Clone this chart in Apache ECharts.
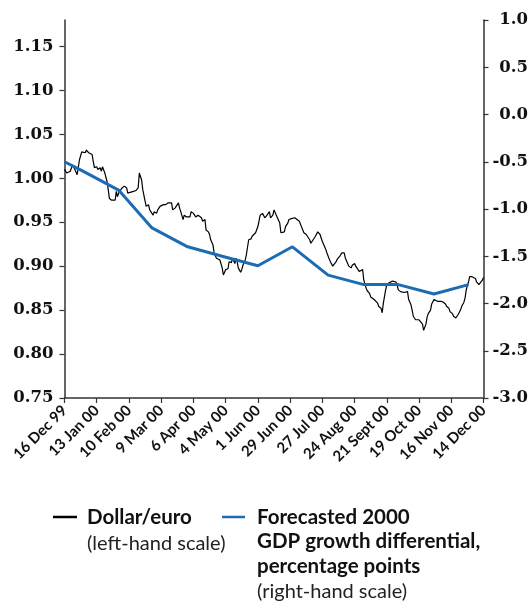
<!DOCTYPE html>
<html>
<head>
<meta charset="utf-8">
<script src="https://cdn.jsdelivr.net/npm/echarts@6/dist/echarts.min.js"></script>
<style>
  html, body { margin: 0; padding: 0; background: #fff; }
  #chart { width: 531px; height: 602px; }
</style>
</head>
<body>
<div id="chart"></div>
<script>
// x axis: days counted from 16 Dec 99, tick every 4 weeks
var xTickLabels = ['16 Dec 99', '13 Jan 00', '10 Feb 00', '9 Mar 00', '6 Apr 00', '4 May 00', '1 Jun 00',
  '29 Jun 00', '27 Jul 00', '24 Aug 00', '21 Sept 00', '19 Oct 00', '16 Nov 00', '14 Dec 00'];
var leftTicks = [0.75, 0.80, 0.85, 0.90, 0.95, 1.00, 1.05, 1.10, 1.15];

// dollar/euro, daily (day offset, rate)
var fxDay = [0, 2, 5, 7, 9, 11, 12, 13, 15, 16, 18, 19, 21, 22, 24, 25, 26, 28, 29, 31, 32, 33, 35, 37, 38, 39,
  41, 42, 44, 45, 46, 47, 50, 51, 52, 54, 55, 57, 60, 62, 64, 65, 67, 68, 70, 71, 73, 74, 75, 77, 78, 80, 81,
  83, 84, 86, 87, 88, 90, 91, 93, 94, 96, 97, 99, 100, 101, 103, 104, 106, 107, 109, 110, 112, 113, 114, 116,
  117, 119, 120, 122, 123, 125, 126, 127, 129, 130, 132, 133, 135, 136, 137, 138, 140, 142, 143, 144, 145, 146,
  148, 149, 150, 151, 153, 154, 155, 157, 158, 160, 162, 163, 166, 168, 169, 170, 172, 174, 175, 176, 178, 179,
  181, 182, 184, 185, 187, 188, 189, 191, 192, 194, 195, 197, 198, 200, 201, 202, 204, 205, 207, 208, 210, 211,
  213, 214, 215, 216, 218, 220, 221, 222, 223, 224, 226, 227, 228, 230, 231, 233, 234, 236, 237, 239, 240, 241,
  243, 244, 246, 247, 249, 250, 252, 253, 254, 256, 257, 259, 260, 262, 263, 265, 266, 267, 269, 270, 272, 273,
  275, 276, 277, 279, 280, 282, 283, 285, 286, 288, 289, 290, 292, 293, 295, 296, 298, 299, 301, 302, 303, 305,
  306, 308, 309, 311, 312, 314, 315, 316, 318, 319, 321, 322, 324, 325, 327, 328, 329, 331, 332, 334, 335, 337,
  338, 340, 341, 342, 344, 345, 347, 348, 349, 350, 351, 352, 354, 355, 357, 358, 360, 361, 363, 364];
var fxRate = [1.010, 1.006, 1.008, 1.015, 1.010, 1.004, 1.006, 1.021, 1.030, 1.032, 1.029, 1.032, 1.029, 1.031,
  1.027, 1.019, 1.012, 1.013, 1.010, 1.012, 1.008, 1.013, 1.006, 0.996, 0.987, 0.977, 0.975, 0.973, 0.975, 0.985,
  0.979, 0.983, 0.989, 0.987, 0.991, 0.989, 0.983, 0.984, 0.985, 0.986, 0.989, 1.006, 0.998, 0.987, 0.974, 0.968,
  0.970, 0.964, 0.962, 0.958, 0.962, 0.960, 0.964, 0.968, 0.966, 0.970, 0.972, 0.970, 0.972, 0.970, 0.972, 0.964,
  0.966, 0.968, 0.972, 0.966, 0.962, 0.953, 0.958, 0.956, 0.958, 0.956, 0.962, 0.960, 0.958, 0.956, 0.958, 0.956,
  0.955, 0.951, 0.953, 0.941, 0.939, 0.936, 0.930, 0.924, 0.915, 0.909, 0.911, 0.907, 0.905, 0.898, 0.890, 0.896,
  0.897, 0.905, 0.907, 0.904, 0.909, 0.903, 0.909, 0.905, 0.898, 0.893, 0.896, 0.901, 0.907, 0.913, 0.930, 0.931,
  0.934, 0.938, 0.945, 0.947, 0.958, 0.960, 0.955, 0.956, 0.958, 0.962, 0.955, 0.958, 0.964, 0.958, 0.960, 0.949,
  0.938, 0.936, 0.939, 0.945, 0.949, 0.953, 0.954, 0.955, 0.955, 0.953, 0.953, 0.951, 0.949, 0.941, 0.938, 0.936,
  0.934, 0.930, 0.926, 0.924, 0.930, 0.934, 0.939, 0.941, 0.936, 0.932, 0.928, 0.922, 0.919, 0.915, 0.908, 0.905,
  0.900, 0.901, 0.905, 0.908, 0.911, 0.913, 0.915, 0.915, 0.909, 0.903, 0.900, 0.898, 0.901, 0.903, 0.900, 0.898,
  0.894, 0.895, 0.896, 0.884, 0.875, 0.872, 0.869, 0.865, 0.864, 0.862, 0.860, 0.858, 0.854, 0.852, 0.847, 0.858,
  0.873, 0.879, 0.881, 0.882, 0.883, 0.884, 0.882, 0.878, 0.873, 0.871, 0.869, 0.870, 0.869, 0.871, 0.862, 0.856,
  0.850, 0.843, 0.839, 0.841, 0.839, 0.837, 0.834, 0.827, 0.834, 0.842, 0.846, 0.850, 0.857, 0.862, 0.862, 0.860,
  0.858, 0.860, 0.861, 0.859, 0.857, 0.854, 0.852, 0.848, 0.846, 0.843, 0.841, 0.839, 0.845, 0.850, 0.854, 0.859,
  0.864, 0.873, 0.878, 0.882, 0.888, 0.888, 0.890, 0.886, 0.882, 0.879, 0.877, 0.884, 0.887];

// forecasted 2000 GDP growth differential, monthly
var gdpDates = ['1999-12-16', '2000-01-01', '2000-02-01', '2000-03-01', '2000-04-01', '2000-05-01', '2000-06-01',
  '2000-07-01', '2000-08-01', '2000-09-01', '2000-10-01', '2000-11-01', '2000-12-01'];
var gdpDiff = [-0.5, -0.6, -0.8, -1.2, -1.4, -1.5, -1.6, -1.4, -1.7, -1.8, -1.8, -1.9, -1.8];

var START = Date.UTC(1999, 11, 16);
function dayOf(s) {
  var p = s.split('-');
  return (Date.UTC(+p[0], +p[1] - 1, +p[2]) - START) / 86400000;
}

var fxData = fxDay.map(function (d, i) { return [d, fxRate[i]]; });
var gdpData = gdpDates.map(function (s, i) { return [dayOf(s), gdpDiff[i]]; });

var BLUE = '#1c6cb3';
var axisLine = { show: true, onZero: false, lineStyle: { color: '#333', width: 1.5 } };
var tick = { show: true, length: 5, lineStyle: { color: '#333', width: 1.2 } };
var numFont = { fontFamily: 'DejaVu Serif', fontWeight: 'bold', fontSize: 16.5, color: '#111' };

var myChart = echarts.init(document.getElementById('chart'), null, { renderer: 'canvas' });
var option = {
  animation: false,
  grid: { left: 64.5, right: 46, top: 20, bottom: 204, containLabel: false },
  xAxis: {
    type: 'value',
    min: 0, max: 364, interval: 28,
    axisLine: axisLine,
    axisTick: tick,
    splitLine: { show: false },
    axisLabel: {
      rotate: 45, margin: 10,
      fontFamily: 'Lato', fontWeight: 'bold', fontSize: 15, color: '#111',
      formatter: function (v) { return xTickLabels[Math.round(v / 28)]; }
    }
  },
  yAxis: [{
    type: 'value',
    position: 'left',
    min: 0.75, max: 1.18, interval: 0.05,
    axisLine: axisLine,
    axisTick: Object.assign({ customValues: leftTicks }, tick),
    splitLine: { show: false },
    axisLabel: Object.assign({
      margin: 11, customValues: leftTicks,
      formatter: function (v) { return v.toFixed(2); }
    }, numFont)
  }, {
    type: 'value',
    position: 'right',
    min: -3, max: 1, interval: 0.5,
    axisLine: axisLine,
    axisTick: tick,
    splitLine: { show: false },
    axisLabel: Object.assign({
      margin: 44.5, align: 'right',
      formatter: function (v) { return v.toFixed(1); }
    }, numFont)
  }],
  series: [{
    name: 'Dollar/euro',
    type: 'line',
    yAxisIndex: 0,
    data: fxData,
    showSymbol: false,
    lineStyle: { color: '#000', width: 1.2 },
    z: 2
  }, {
    name: 'Forecasted 2000 GDP growth differential',
    type: 'line',
    yAxisIndex: 1,
    data: gdpData,
    showSymbol: false,
    lineStyle: { color: BLUE, width: 3 },
    z: 3
  }],
  graphic: [
    { type: 'line', shape: { x1: 53, y1: 517, x2: 77, y2: 517 }, style: { stroke: '#000', lineWidth: 2.5 } },
    { type: 'text', x: 87, y: 517, style: { text: 'Dollar/euro', font: 'bold 20.5px Lato', fill: '#111', verticalAlign: 'middle' } },
    { type: 'text', x: 87, y: 544, style: { text: '(left-hand scale)', font: '20px Lato', fill: '#222', verticalAlign: 'middle' } },
    { type: 'line', shape: { x1: 222, y1: 517, x2: 245, y2: 517 }, style: { stroke: BLUE, lineWidth: 2.5 } },
    { type: 'text', x: 257, y: 517, style: { text: 'Forecasted 2000', font: 'bold 20.5px Lato', fill: '#111', verticalAlign: 'middle' } },
    { type: 'text', x: 257, y: 541.5, style: { text: 'GDP growth differential,', font: 'bold 20.5px Lato', fill: '#111', verticalAlign: 'middle' } },
    { type: 'text', x: 257, y: 566.5, style: { text: 'percentage points', font: 'bold 20.5px Lato', fill: '#111', verticalAlign: 'middle' } },
    { type: 'text', x: 257, y: 592, style: { text: '(right-hand scale)', font: '20px Lato', fill: '#222', verticalAlign: 'middle' } }
  ]
};
myChart.setOption(option);
window.onresize = function () {
  myChart.resize();
};
</script>
</body>
</html>
